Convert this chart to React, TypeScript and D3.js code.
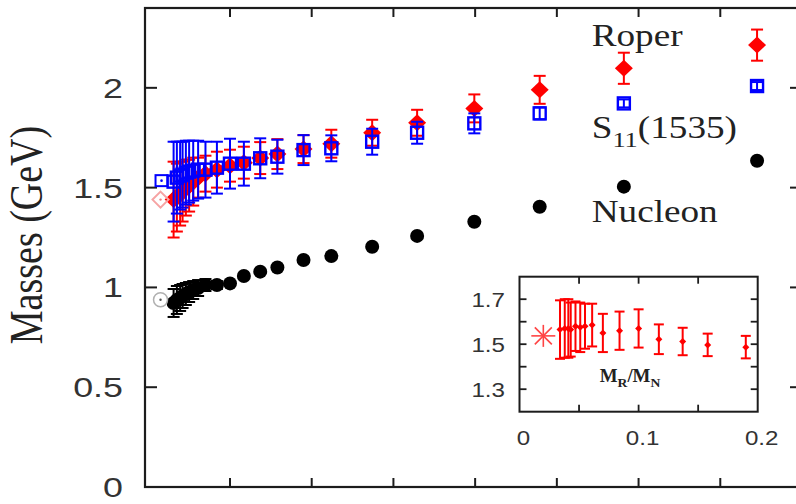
import React from 'react';
import * as d3 from 'd3';

// ---------- data ----------
const mpi2 = [0.031, 0.035, 0.039, 0.042, 0.046, 0.050, 0.055, 0.061, 0.070, 0.084, 0.100, 0.117, 0.137, 0.158, 0.190, 0.224, 0.274, 0.329, 0.399, 0.479, 0.582, 0.745];
const roperMass = [1.44, 1.45, 1.47, 1.48, 1.50, 1.51, 1.53, 1.55, 1.57, 1.59, 1.61, 1.625, 1.648, 1.668, 1.693, 1.72, 1.775, 1.825, 1.897, 1.99, 2.098, 2.214];
const roperErr = [0.19, 0.17, 0.16, 0.15, 0.14, 0.13, 0.12, 0.10, 0.09, 0.09, 0.08, 0.08, 0.08, 0.075, 0.07, 0.07, 0.065, 0.065, 0.07, 0.07, 0.078, 0.078];
const s11Mass = [1.53, 1.55, 1.56, 1.565, 1.575, 1.58, 1.585, 1.59, 1.59, 1.60, 1.62, 1.62, 1.647, 1.655, 1.688, 1.697, 1.73, 1.775, 1.822, 1.872, 1.922, 2.009];
const s11Err = [0.20, 0.18, 0.17, 0.165, 0.16, 0.155, 0.15, 0.145, 0.14, 0.13, 0.125, 0.11, 0.10, 0.085, 0.075, 0.065, 0.065, 0.055, 0.05, 0.03, 0.02, 0.02];
const nucMass = [0.922, 0.937, 0.947, 0.957, 0.967, 0.977, 0.987, 0.997, 1.012, 1.012, 1.02, 1.057, 1.079, 1.10, 1.137, 1.157, 1.204, 1.258, 1.329, 1.404, 1.505, 1.635];
const nucErr = [0.07, 0.07, 0.065, 0.06, 0.055, 0.05, 0.045, 0.04, 0.03, 0.02, 0.01, 0.008, 0.006, 0.005, 0.005, 0.005, 0.004, 0.004, 0.004, 0.004, 0.004, 0.004];

// physical (experimental) points
const physX = 0.015;
const physNucleon = 0.938;
const physRoper = 1.44;
const physS11 = 1.535;

// inset: M_R / M_N ratio
const insetX = [0.034, 0.038, 0.041, 0.043, 0.047, 0.051, 0.055, 0.061, 0.070, 0.084, 0.100, 0.117, 0.137, 0.158, 0.190];
const insetRatio = [1.565, 1.57, 1.57, 1.565, 1.58, 1.575, 1.58, 1.585, 1.55, 1.56, 1.57, 1.522, 1.512, 1.497, 1.487];
const insetErr = [0.13, 0.13, 0.13, 0.12, 0.11, 0.11, 0.10, 0.095, 0.085, 0.085, 0.085, 0.066, 0.061, 0.05, 0.05];
const insetPhysX = 0.02;
const insetPhysRatio = 1.537;

const yTicks = [0, 0.5, 1, 1.5, 2];
const yTickLabels = ['0', '0.5', '1', '1.5', '2'];
const xTicks = [0.1, 0.2, 0.3, 0.4, 0.5, 0.6, 0.7];
const insetYTicks = [1.3, 1.4, 1.5, 1.6, 1.7];
const insetYLabels = [1.3, 1.5, 1.7];
const insetXTicks = [0.05, 0.1, 0.15];
const insetXLabels = [0, 0.1, 0.2];

// ---------- helpers ----------
const SANS = 'Liberation Sans, Arial, sans-serif';
const SERIF = 'Liberation Serif, Times New Roman, serif';

function ST({ x, y, sx = 1, sy = 1, rot = 0, children, ...rest }: any) {
  return (
    <g transform={`translate(${x},${y}) rotate(${rot}) scale(${sx},${sy})`}>
      <text {...rest}>{children}</text>
    </g>
  );
}

function ErrBar({ cx, y0, y1, hw, color, w }: any) {
  return (
    <g stroke={color} strokeWidth={w} fill="none">
      <line x1={cx} x2={cx} y1={y0} y2={y1} />
      <line x1={cx - hw} x2={cx + hw} y1={y0} y2={y0} />
      <line x1={cx - hw} x2={cx + hw} y1={y1} y2={y1} />
    </g>
  );
}

const diamond = (cx: number, cy: number, w: number, h: number) =>
  `M${cx},${cy - h}L${cx + w},${cy}L${cx},${cy + h}L${cx - w},${cy}Z`;

export default function App() {
  const L = 145, R = 802, T = 8, B = 487;
  const x = d3.scaleLinear().domain([-0.004, 0.8]).range([L, R]);
  const y = d3.scaleLinear().domain([0, 2.4]).range([B, T]);

  const iL = 519.5, iR = 757.7, iT = 276.7, iB = 411.7;
  const ix = d3.scaleLinear().domain([0, 0.2]).range([iL, iR]);
  const iy = d3.scaleLinear().domain([1.2, 1.8]).range([iB, iT]);

  const axisColor = '#1c1c1c';
  const labelColor = '#333';

  return (
    <svg width={796} height={504} style={{ position: 'absolute', left: 0, top: 0, background: '#fff' }}>
      <rect x={0} y={0} width={796} height={504} fill="#fff" />

      {/* main frame */}
      <rect x={L} y={T} width={R - L} height={B - T} fill="none" stroke={axisColor} strokeWidth={2.2} />
      {yTicks.filter((v) => v > 0).map((v) => (
        <g key={'yt' + v} stroke={axisColor} strokeWidth={2}>
          <line x1={L} x2={L + 12} y1={y(v)} y2={y(v)} />
          <line x1={R} x2={R - 12} y1={y(v)} y2={y(v)} />
        </g>
      ))}
      {xTicks.map((v) => (
        <g key={'xt' + v} stroke={axisColor} strokeWidth={2}>
          <line x1={x(v)} x2={x(v)} y1={B} y2={B - 9} />
          <line x1={x(v)} x2={x(v)} y1={T} y2={T + 9} />
        </g>
      ))}
      {yTicks.map((v, i) => (
        <ST key={'yl' + v} x={123} y={y(v) + 10} sx={1.28} fontFamily={SANS} fontSize={28} textAnchor="end" fill={labelColor}>
          {yTickLabels[i]}
        </ST>
      ))}
      <ST x={42} y={235} rot={-90} sy={1.2} fontFamily={SERIF} fontSize={38} textAnchor="middle" fill="#222">
        Masses (GeV)
      </ST>

      {/* Roper */}
      {mpi2.map((v, i) => (
        <ErrBar key={'re' + i} cx={x(v)} y0={y(roperMass[i] + roperErr[i])} y1={y(roperMass[i] - roperErr[i])} hw={6} color="#ff0000" w={2} />
      ))}
      {mpi2.map((v, i) => (
        <path key={'rd' + i} d={diamond(x(v), y(roperMass[i]), 9, 8.5)} fill="#ff0000" />
      ))}

      {/* S11 */}
      {mpi2.map((v, i) => (
        <g key={'s' + i}>
          <ErrBar cx={x(v)} y0={y(s11Mass[i] + s11Err[i])} y1={y(s11Mass[i] - s11Err[i])} hw={6} color="#0000ff" w={2} />
          <rect x={x(v) - 6} y={y(s11Mass[i]) - 6} width={12} height={12} fill="none" stroke="#0000ff" strokeWidth={2.4} />
        </g>
      ))}

      {/* Nucleon */}
      {mpi2.map((v, i) => (
        <g key={'n' + i}>
          <ErrBar cx={x(v)} y0={y(nucMass[i] + nucErr[i])} y1={y(nucMass[i] - nucErr[i])} hw={6} color="#000" w={2} />
          <circle cx={x(v)} cy={y(nucMass[i])} r={7} fill="#000" />
        </g>
      ))}

      {/* physical points */}
      <path d={diamond(x(physX), y(physRoper), 8, 8)} fill="none" stroke="#f6a3a3" strokeWidth={2} />
      <circle cx={x(physX)} cy={y(physRoper)} r={1.2} fill="#f08080" />
      <rect x={x(physX) + 1 - 6} y={y(physS11) - 5.5} width={12} height={11} fill="none" stroke="#0000ff" strokeWidth={2} />
      <circle cx={x(physX) + 1} cy={y(physS11)} r={1.3} fill="#0000ff" />
      <circle cx={x(physX)} cy={y(physNucleon)} r={7} fill="none" stroke="#b0b0b0" strokeWidth={1.5} />
      <circle cx={x(physX)} cy={y(physNucleon)} r={1.2} fill="#555" />

      {/* legend labels */}
      <ST x={591.7} y={46} sx={1.2} fontFamily={SERIF} fontSize={31} fill="#222">Roper</ST>
      <g transform="translate(591.7,138) scale(1.2,1)">
        <text fontFamily={SERIF} fontSize={31} fill="#222">
          S<tspan fontSize={22} dy={9}>11</tspan><tspan dy={-9}>(1535)</tspan>
        </text>
      </g>
      <ST x={591.7} y={222} sx={1.2} fontFamily={SERIF} fontSize={31} fill="#222">Nucleon</ST>

      {/* inset */}
      <rect x={iL} y={iT} width={iR - iL} height={iB - iT} fill="#fff" stroke={axisColor} strokeWidth={2} />
      {insetYTicks.map((v) => (
        <g key={'iyt' + v} stroke={axisColor} strokeWidth={1.8}>
          <line x1={iL} x2={iL + 7} y1={iy(v)} y2={iy(v)} />
          <line x1={iR} x2={iR - 7} y1={iy(v)} y2={iy(v)} />
        </g>
      ))}
      {insetXTicks.map((v) => (
        <g key={'ixt' + v} stroke={axisColor} strokeWidth={1.8}>
          <line x1={ix(v)} x2={ix(v)} y1={iB} y2={iB - 7} />
          <line x1={ix(v)} x2={ix(v)} y1={iT} y2={iT + 7} />
        </g>
      ))}
      {insetYLabels.map((v) => (
        <ST key={'iyl' + v} x={505} y={iy(v) + 7.5} sx={1.15} fontFamily={SANS} fontSize={21} textAnchor="end" fill={labelColor}>
          {v.toFixed(1)}
        </ST>
      ))}
      {insetXLabels.map((v) => (
        <ST key={'ixl' + v} x={ix(v) + 4} y={445} sx={1.15} fontFamily={SANS} fontSize={21} textAnchor="middle" fill={labelColor}>
          {v === 0 ? '0' : v.toFixed(1)}
        </ST>
      ))}
      <ST x={630} y={382} sx={1.05} fontFamily={SERIF} fontSize={18} fontWeight="bold" textAnchor="middle" fill="#222">
        M<tspan fontSize={13} dy={5}>R</tspan><tspan dy={-5}>/M</tspan><tspan fontSize={13} dy={5}>N</tspan>
      </ST>
      {insetX.map((v, i) => (
        <g key={'ip' + i}>
          <ErrBar cx={ix(v)} y0={iy(insetRatio[i] + insetErr[i])} y1={iy(insetRatio[i] - insetErr[i])} hw={5} color="#ff0000" w={2} />
          <path d={diamond(ix(v), iy(insetRatio[i]), 3.5, 3.5)} fill="#ff0000" />
        </g>
      ))}
      <g stroke="#ff4444" strokeWidth={1.6} transform={`translate(${ix(insetPhysX)},${iy(insetPhysRatio)})`}>
        <line x1={-12} x2={12} y1={0} y2={0} />
        <line x1={0} x2={0} y1={-11} y2={11} />
        <line x1={-8.5} x2={8.5} y1={-8.5} y2={8.5} />
        <line x1={-8.5} x2={8.5} y1={8.5} y2={-8.5} />
      </g>
    </svg>
  );
}
